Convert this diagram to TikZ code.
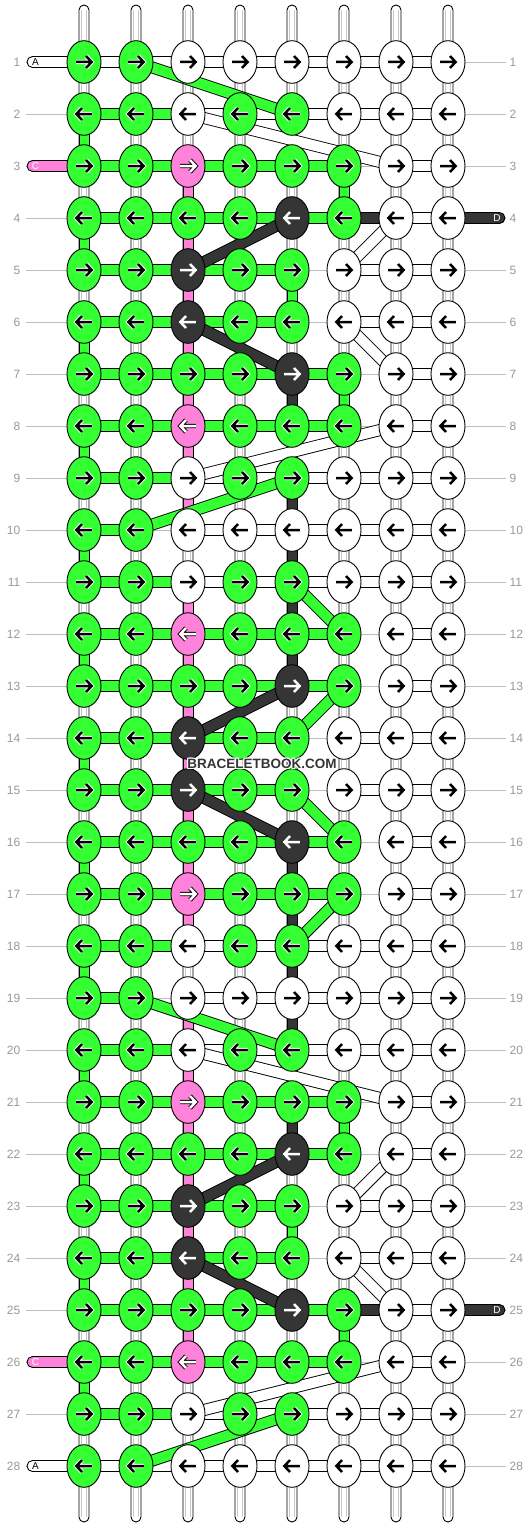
\documentclass[tikz,border=0pt]{standalone}
\usepackage{fontspec}
\setmainfont{Liberation Sans}
\usetikzlibrary{shapes.geometric}
\definecolor{kG}{HTML}{33FF33}
\definecolor{kW}{HTML}{FFFFFF}
\definecolor{kP}{HTML}{FF82DA}
\definecolor{kD}{HTML}{353535}
\definecolor{lblgray}{HTML}{999999}
\definecolor{guidegray}{HTML}{BEBEBE}
\definecolor{warpline}{HTML}{C8C8C8}
\def\haloG{white}\def\haloW{white}\def\haloP{black}\def\haloD{kD}
\def\arrG{black}\def\arrW{black}\def\arrP{white}\def\arrD{white}
\tikzset{
 knot/.style={ellipse, draw=black, line width=0.9pt, minimum width=34pt, minimum height=42.6pt, inner sep=0pt},
 seg-g/.style={draw=black, line width=0.9pt, fill=kG},
 seg-w/.style={draw=black, line width=0.9pt, fill=white},
 seg-d/.style={draw=black, line width=0.9pt, fill=kD},
 seg-p/.style={draw=black, line width=0.9pt, fill=kP},
 seg-n/.style={draw=none, fill=none},
 rowlbl/.style={text=lblgray, font=\fontsize{12}{12}\selectfont, inner sep=0pt},
 pilltxt/.style={font=\fontsize{10}{10}\selectfont, inner sep=0pt},
 wm/.style={font=\bfseries\fontsize{13.5}{13.5}\selectfont, inner sep=0pt},
}
\begin{document}
\begin{tikzpicture}[x=1pt,y=-1pt]
\useasboundingbox (0,0) rectangle (532,1528);
\fill[white] (0,0) rectangle (532,1528);
% grid coordinates
\foreach \r in {1,...,28}{\foreach \c in {1,...,8}{\coordinate (p-\r-\c) at ({84+52*(\c-1)},{62+52*(\r-1)});}}
% guide lines and row labels
\foreach \r in {1,...,28}{
  \draw[guidegray, line width=0.9pt] ([xshift=-58pt]p-\r-1) -- ([xshift=58pt]p-\r-8);
  \node[rowlbl, anchor=east] (ll-\r) at ([xshift=-63.5pt]p-\r-1) {\r};
  \node[rowlbl, anchor=west] (rl-\r) at ([xshift=61.5pt]p-\r-8) {\r};
}
% warp strings
\foreach \c in {1,...,8}{
  \pgfmathsetmacro\xx{84+52*(\c-1)}
  \draw[line width=0.9pt, fill=white] (\xx-5,1517) -- (\xx-5,10) arc[start angle=180,end angle=360,radius=5] -- (\xx+5,1517) arc[start angle=0,end angle=180,radius=5] -- cycle;
  \draw[warpline, line width=0.8pt] (\xx-2.5,10) -- (\xx-2.5,1517) (\xx+2.5,10) -- (\xx+2.5,1517);
}
% coloured vertical segments
\foreach \c/\r/\s in {1/2/g,1/4/g,1/6/g,1/8/g,1/10/g,1/12/g,1/14/g,1/16/g,1/18/g,1/20/g,1/22/g,1/24/g,1/26/g,
  3/3/p,3/4/p,3/5/p,3/6/p,3/7/p,3/8/p,3/9/p,3/11/p,3/12/p,3/13/p,3/14/p,3/15/p,3/16/p,3/17/p,
  3/19/p,3/20/p,3/21/p,3/22/p,3/23/p,3/24/p,3/25/p,
  5/7/d,5/8/d,5/9/d,5/10/d,5/11/d,5/12/d,5/16/d,5/17/d,5/18/d,5/19/d,5/20/d,5/21/d,
  5/5/g,5/14/g,5/23/g,6/3/g,6/7/g,6/21/g,6/25/g}{
  \pgfmathtruncatemacro\rn{\r+1}
  \draw[seg-\s] ([xshift=-5pt]p-\r-\c) rectangle ([xshift=5pt]p-\rn-\c);
}
% horizontal segments
\foreach \r/\row in {1/{w,w,w,w,w,w,w},2/{g,g,w,w,w,w,w},3/{g,g,g,g,g,n,w},4/{g,g,g,g,g,d,w},
  5/{g,g,g,g,n,w,w},6/{g,g,g,g,n,w,w},7/{g,g,g,g,g,n,w},8/{g,g,g,g,g,n,w},9/{g,g,w,w,w,w,w},
  10/{g,n,w,w,w,w,w},11/{g,g,w,w,w,w,w},12/{g,g,g,g,g,n,w},13/{g,g,g,g,g,n,w},14/{g,g,g,g,n,w,w},
  15/{g,g,g,g,n,w,w},16/{g,g,g,g,g,n,w},17/{g,g,g,g,g,n,w},18/{g,g,w,w,w,w,w},19/{g,n,w,w,w,w,w},
  20/{g,g,w,w,w,w,w},21/{g,g,g,g,g,n,w},22/{g,g,g,g,g,n,w},23/{g,g,g,g,n,w,w},24/{g,g,g,g,n,w,w},
  25/{g,g,g,g,g,d,w},26/{g,g,g,g,g,n,w},27/{g,g,w,w,w,w,w},28/{w,w,w,w,w,w,w}}{
  \foreach \s [count=\c] in \row {
    \pgfmathtruncatemacro\cn{\c+1}
    \draw[seg-\s] ([yshift=5.5pt]p-\r-\c) rectangle ([yshift=-5.5pt]p-\r-\cn);
  }
}
% side pills
\foreach \r/\col/\txt/\tc in {1/white/A/black,3/kP/C/white,26/kP/C/white,28/white/A/black}{
  \draw[line width=0.9pt, fill=\col] ([yshift=5.5pt]p-\r-1) -- ([xshift=-51.5pt,yshift=5.5pt]p-\r-1) arc[start angle=270,end angle=90,radius=5.5] -- ([yshift=-5.5pt]p-\r-1) -- cycle;
  \node[pilltxt, text=\tc] (pl-\r) at ([xshift=-48.5pt]p-\r-1) {\txt};
}
\foreach \r in {4,25}{
  \draw[line width=0.9pt, fill=kD] ([yshift=5.5pt]p-\r-8) -- ([xshift=51.5pt,yshift=5.5pt]p-\r-8) arc[start angle=-90,end angle=90,radius=5.5] -- ([yshift=-5.5pt]p-\r-8) -- cycle;
  \node[pilltxt, text=white] (pr-\r) at ([xshift=49pt]p-\r-8) {D};
}
% diagonal strings
\foreach \a/\b/\s in {1-2/2-5/kG,9-5/10-2/kG,19-2/20-5/kG,27-5/28-2/kG,11-5/12-6/kG,13-6/14-5/kG,15-5/16-6/kG,17-6/18-5/kG,
  4-5/5-3/kD,6-3/7-5/kD,13-5/14-3/kD,15-3/16-5/kD,22-5/23-3/kD,24-3/25-5/kD,
  2-3/3-7/white,4-7/5-6/white,6-6/7-7/white,8-7/9-3/white,20-3/21-7/white,22-7/23-6/white,24-6/25-7/white,26-7/27-3/white}{
  \draw[line width=12pt, black] (p-\a) -- (p-\b);
  \draw[line width=10.2pt, \s] (p-\a) -- (p-\b);
}
% knots
\foreach \r/\row in {1/{G,G,W,W,W,W,W,W},2/{G,G,W,G,G,W,W,W},3/{G,G,P,G,G,G,W,W},4/{G,G,G,G,D,G,W,W},
  5/{G,G,D,G,G,W,W,W},6/{G,G,D,G,G,W,W,W},7/{G,G,G,G,D,G,W,W},8/{G,G,P,G,G,G,W,W},9/{G,G,W,G,G,W,W,W},
  10/{G,G,W,W,W,W,W,W},11/{G,G,W,G,G,W,W,W},12/{G,G,P,G,G,G,W,W},13/{G,G,G,G,D,G,W,W},14/{G,G,D,G,G,W,W,W},
  15/{G,G,D,G,G,W,W,W},16/{G,G,G,G,D,G,W,W},17/{G,G,P,G,G,G,W,W},18/{G,G,W,G,G,W,W,W},19/{G,G,W,W,W,W,W,W},
  20/{G,G,W,G,G,W,W,W},21/{G,G,P,G,G,G,W,W},22/{G,G,G,G,D,G,W,W},23/{G,G,D,G,G,W,W,W},24/{G,G,D,G,G,W,W,W},
  25/{G,G,G,G,D,G,W,W},26/{G,G,P,G,G,G,W,W},27/{G,G,W,G,G,W,W,W},28/{G,G,W,W,W,W,W,W}}{
  \foreach \k [count=\c] in \row {
    \node[knot, fill=k\k] (k-\r-\c) at (p-\r-\c) {};
    \ifodd\r \def\sg{1}\else\def\sg{-1}\fi
    \edef\hc{\csname halo\k\endcsname}\edef\ac{\csname arr\k\endcsname}
    \begin{scope}[shift={(p-\r-\c)}, xscale=\sg]
      \draw[line width=4.4pt, color=\hc, line join=miter, miter limit=10] (-7.8,0) -- (7,0) (2,-6) -- (7.6,0) -- (2,6);
      \draw[line width=2.5pt, color=\ac, line join=miter, miter limit=10] (-7.8,0) -- (7,0) (2,-6) -- (7.6,0) -- (2,6);
    \end{scope}
  }
}
% watermark
\foreach \dx/\dy [count=\i] in {-1/0,1/0,0/-1,0/1,-1/-1,1/1,-1/1,1/-1}{
  \node[wm, text=white] (wmh\i) at (262+\dx,764+\dy) {BRACELETBOOK.COM};
}
\node[wm, text=kD] (wm) at (262,764) {BRACELETBOOK.COM};
\end{tikzpicture}
\end{document}
